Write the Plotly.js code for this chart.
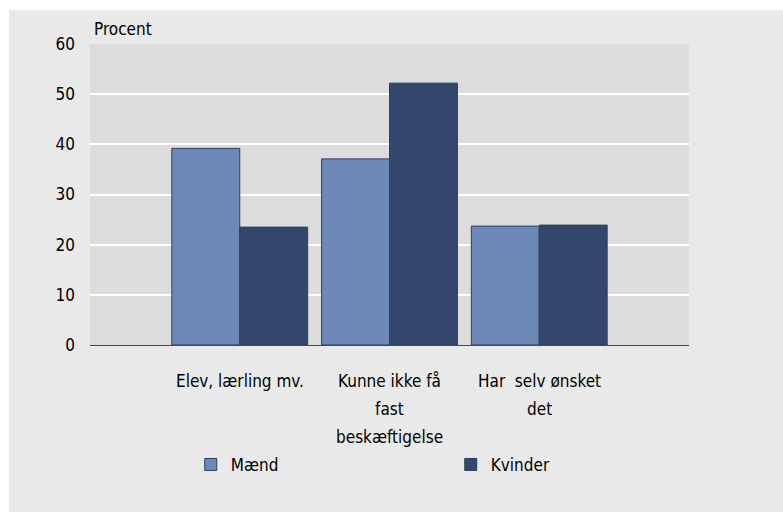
<!DOCTYPE html>
<html><head><meta charset="utf-8">
<script src="https://cdn.plot.ly/plotly-3.0.1.min.js"></script>
<style>
html,body{margin:0;padding:0;background:#fff;width:783px;height:512px;overflow:hidden}
#bg{position:absolute;left:9px;top:10px;width:774px;height:502px;background:#e9e9e9}
#chart{position:absolute;left:0;top:0;width:783px;height:512px}
</style></head>
<body><div id="bg"></div><div id="chart"></div>
<script>
const categories = ["Elev, lærling mv.", "Kunne ikke få<br>fast<br>beskæftigelse", "Har  selv ønsket<br>det"];
const maend = [39.2, 37.1, 23.7];
const kvinder = [23.5, 52.2, 23.9];
const yTicks = [0, 10, 20, 30, 40, 50, 60];
const FONT = '"DejaVu Sans Condensed", "Liberation Sans Narrow", sans-serif';
const xIdx = categories.map((c, i) => i);
const traces = [
  {type: 'bar', name: 'Mænd', x: xIdx, y: maend,
   marker: {color: '#6b88b6', line: {color: '#2f3f60', width: 1}}},
  {type: 'bar', name: 'Kvinder', x: xIdx, y: kvinder,
   marker: {color: '#33466b', line: {color: '#2f3f60', width: 1}}}
];
// category labels: one annotation per line, placed at the category on the x axis
const catAnnotations = [];
categories.forEach((c, i) => {
  c.split('<br>').forEach((line, j) => {
    catAnnotations.push({text: line, xref: 'x', yref: 'paper', x: i, y: 0,
      xanchor: 'center', yanchor: 'middle', yshift: -36 - 28 * j, showarrow: false,
      font: {family: FONT, size: 17, color: '#000'}});
  });
});
const layout = {
  width: 783, height: 512,
  margin: {l: 90, r: 94, t: 44, b: 167},
  paper_bgcolor: 'rgba(0,0,0,0)', plot_bgcolor: '#dcdcdc',
  font: {family: FONT, size: 17, color: '#000'},
  barmode: 'group', bargap: 0.093, bargroupgap: 0,
  showlegend: true,
  legend: {orientation: 'h', xref: 'container', x: 0.2436, xanchor: 'left',
           yref: 'container', y: 0.092, yanchor: 'middle',
           entrywidth: 215, entrywidthmode: 'pixels', bgcolor: 'rgba(0,0,0,0)',
           font: {family: FONT, size: 17}, traceorder: 'normal', itemwidth: 30},
  xaxis: {range: [-1, 3], tickvals: xIdx, showticklabels: false, showgrid: false,
          zeroline: false, showline: true, linecolor: '#3a4866', linewidth: 1,
          ticks: '', fixedrange: true},
  yaxis: {range: [0, 60], tickvals: yTicks, showgrid: true, gridcolor: '#ffffff', gridwidth: 2,
          zeroline: false, ticks: '', ticklabelstandoff: 14, tickfont: {family: FONT, size: 17}},
  annotations: [{text: 'Procent', xref: 'paper', yref: 'paper', x: 0.003, y: 1.0,
                 xanchor: 'left', yanchor: 'bottom', yshift: 3, showarrow: false,
                 font: {family: FONT, size: 17}}].concat(catAnnotations)
};
Plotly.newPlot('chart', traces, layout, {displayModeBar: false, staticPlot: true});
</script></body></html>
